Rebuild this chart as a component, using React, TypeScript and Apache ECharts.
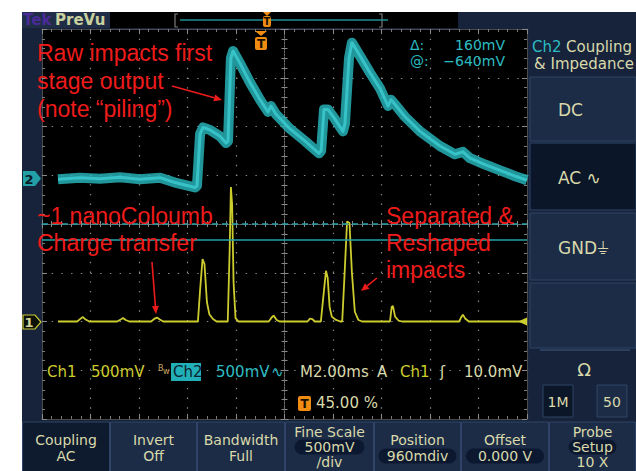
import React, { useEffect, useRef } from "react";
import * as echarts from "echarts";

// Ch2 (cyan, raw first-stage output): time in ms from screen centre, level in divisions
const ch2Time = [-9.34, -8.43, -7.61, -6.78, -5.96, -5.13, -4.52, -3.69, -3.61, -3.48, -3.36, -3.07, -2.66, -2.41, -2.33, -2.21, -2.12, -1.84, -1.42, -1.01, -0.68, -0.56, -0.35, 0.23, 0.85, 1.42, 1.51, 1.63, 1.79, 2.08, 2.41, 2.49, 2.66, 2.78, 3.11, 3.53, 3.94, 4.27, 4.39, 4.56, 4.97, 5.59, 6.41, 7.03, 7.36, 7.65, 8.27, 8.89, 9.51, 10];
const ch2Div = [0.92, 0.95, 0.93, 0.96, 0.92, 0.95, 0.85, 0.75, 0.78, 1.85, 1.98, 1.93, 1.8, 1.66, 1.7, 3.4, 3.55, 3.3, 2.9, 2.55, 2.3, 2.42, 2.25, 1.95, 1.7, 1.45, 1.5, 2.35, 2.35, 2.15, 1.9, 2.05, 3.4, 3.72, 3.45, 3.1, 2.78, 2.42, 2.55, 2.45, 2.2, 1.9, 1.6, 1.43, 1.48, 1.35, 1.22, 1.1, 0.98, 0.9];

// Ch1 (yellow, separated & reshaped impacts)
const ch1Time = [-9.34, -8.55, -8.38, -8.31, -8.2, -8.05, -6.9, -6.72, -6.66, -6.55, -6.4, -5.5, -5.35, -5.26, -5.14, -5.0, -3.57, -3.48, -3.38, -3.3, -3.2, -3.1, -2.95, -2.8, -2.34, -2.26, -2.21, -2.16, -2.1, -2.02, -1.9, -0.65, -0.5, -0.45, -0.32, -0.2, 0.95, 1.05, 1.15, 1.25, 1.5, 1.6, 1.71, 1.78, 1.86, 1.95, 2.1, 2.3, 2.38, 2.48, 2.58, 2.68, 2.78, 2.9, 3.05, 3.2, 4.35, 4.42, 4.47, 4.56, 4.7, 4.85, 7.2, 7.3, 7.36, 7.45, 7.6, 10];
const ch1Div = [-2, -2, -1.93, -1.91, -1.96, -2, -2, -1.95, -1.93, -1.97, -2, -2, -1.94, -1.92, -1.96, -2, -2, -1.35, -0.72, -0.82, -1.6, -1.85, -1.95, -2, -2, -0.5, 0.76, 0.4, -1.2, -1.93, -2, -2, -1.9, -1.88, -1.97, -2, -2, -1.94, -1.95, -2, -2, -1.5, -0.96, -1.1, -1.7, -1.9, -1.96, -2, -2, -1.0, 0.05, 0.02, -1.0, -1.8, -1.97, -2, -2, -1.7, -1.68, -1.9, -1.98, -2, -2, -1.9, -1.86, -1.94, -2, -2];

// cursor levels (divisions)
const cursorLevels = [0, -0.32];

const bottomMenu = [
  ["Coupling", "AC"],
  ["Invert", "Off"],
  ["Bandwidth", "Full"],
  ["Fine Scale", "500mV", "/div"],
  ["Position", "960mdiv"],
  ["Offset", "0.000 V"],
  ["Probe", "Setup", "10 X"],
];
const sideMenu = ["DC", "AC \u223F", "GND\u23DA", ""];

const NAVY = "#16233a";
const BTN = "#1c2c46";
const BTN_DARK = "#0b1628";
const BORDER = "#2f4467";
const BEIGE = "#d9d9ab";
const YEL = "#cccc2e";
const CYAN = "#2cbcc3";
const RED = "#ee1b1b";
const ORANGE = "#f08c12";
const FONT = '"DejaVu Sans"';

function txt(text: string, x: number, y: number, fill: string, size = 15, align = "left", extra: any = {}) {
  return {
    type: "text", x, y, z: 20,
    style: { text, fill, font: `${extra.weight || "normal"} ${size}px ${extra.family || FONT}`, align, verticalAlign: "middle" },
  };
}
function rect(x: number, y: number, w: number, h: number, fill: string, stroke?: string, r = 0, z = -5) {
  return { type: "rect", z, shape: { x, y, width: w, height: h, r }, style: { fill, stroke: stroke || null, lineWidth: 1 } };
}
function arrow(x1: number, y1: number, x2: number, y2: number) {
  const a = Math.atan2(y2 - y1, x2 - x1);
  const L = 8, W = 3.5;
  const bx = x2 - L * Math.cos(a), by = y2 - L * Math.sin(a);
  const px = -Math.sin(a) * W, py = Math.cos(a) * W;
  return [
    { type: "line", z: 30, shape: { x1, y1, x2: bx, y2: by }, style: { stroke: RED, lineWidth: 1.6 } },
    { type: "polygon", z: 30, shape: { points: [[x2, y2], [bx + px, by + py], [bx - px, by - py]] }, style: { fill: RED } },
  ];
}

export default function App() {
  const ref = useRef<HTMLDivElement>(null);
  useEffect(() => {
    const chart = echarts.init(ref.current!, null, { renderer: "svg" });
    const gridLine = { show: true, lineStyle: { color: "#8a8a8a", type: [1.4, 8.3], width: 1.2 } };
    const frameAxis = (pos: string) => ({
      type: "value", position: pos, min: pos === "top" || pos === "bottom" ? -10 : -4, max: pos === "top" || pos === "bottom" ? 10 : 4,
      interval: pos === "top" || pos === "bottom" ? 2 : 1,
      axisLine: { show: true, onZero: false, lineStyle: { color: "#4a4a4a", width: 1 } },
      axisTick: { show: true, inside: true, length: 5, lineStyle: { color: "#8a8a8a" } },
      minorTick: { show: true, splitNumber: 5, length: 3, lineStyle: { color: "#7a7a7a" } },
      axisLabel: { show: false }, splitLine: { show: false },
    });
    const centerX = (inside: boolean, split: boolean) => ({
      type: "value", position: "bottom", min: -10, max: 10, interval: 2,
      axisLine: { show: true, onZero: true, onZeroAxisIndex: 0, lineStyle: { color: "#6a6a6a", type: [1.5, 1.5] } },
      axisTick: { show: true, inside, length: 4, lineStyle: { color: "#8a8a8a" } },
      minorTick: { show: true, splitNumber: 5, length: 3, lineStyle: { color: "#8a8a8a" } },
      axisLabel: { show: false }, splitLine: split ? gridLine : { show: false },
    });
    const centerY = (inside: boolean, split: boolean) => ({
      type: "value", position: "left", min: -4, max: 4, interval: 1,
      axisLine: { show: true, onZero: true, onZeroAxisIndex: 0, lineStyle: { color: "#6a6a6a", type: [1.5, 1.5] } },
      axisTick: { show: true, inside, length: 4, lineStyle: { color: "#8a8a8a" } },
      minorTick: { show: true, splitNumber: 5, length: 3, lineStyle: { color: "#8a8a8a" } },
      axisLabel: { show: false }, splitLine: split ? gridLine : { show: false },
    });

    const g: any[] = [];
    // screen and panels
    g.push(rect(22, 12, 614, 459, NAVY, undefined, 0, -10));
    g.push(rect(22, 12, 88, 16, "#1f2e46", undefined, 0, -8));
    g.push(rect(110, 12, 348, 16, "#000", undefined, 0, -8));
    g.push(rect(42, 29, 485, 390, "#000", undefined, 0, -8));
    g.push(txt("Tek", 23, 20, "#4a2b98", 15, "left", { weight: "bold" }));
    g.push(txt("PreVu", 55, 20, "#c9d19f", 15, "left", { weight: "bold" }));
    // record view
    g.push({ type: "polyline", z: 5, shape: { points: [[178, 14], [175, 14], [175, 27], [178, 27]] }, style: { stroke: "#7a7a7a", lineWidth: 1.2, fill: null } });
    g.push({ type: "polyline", z: 5, shape: { points: [[379, 14], [382, 14], [382, 27], [379, 27]] }, style: { stroke: "#7a7a7a", lineWidth: 1.2, fill: null } });
    g.push({ type: "line", z: 5, shape: { x1: 180, y1: 20, x2: 388, y2: 20 }, style: { stroke: "#1e9096", lineWidth: 1.5 } });
    g.push({ type: "polygon", z: 6, shape: { points: [[263, 12], [271, 12], [267, 16]] }, style: { fill: ORANGE } });
    g.push(rect(263, 16, 8, 11, ORANGE, undefined, 2, 6));
    g.push(txt("T", 267, 21.5, "#1a1000", 10, "center", { weight: "bold" }));
    // trigger position marker on graticule
    g.push({ type: "polygon", z: 6, shape: { points: [[255, 31], [267, 31], [261, 36]] }, style: { fill: ORANGE } });
    g.push(rect(255, 37, 12, 13, ORANGE, undefined, 2, 6));
    g.push(txt("T", 261, 43.5, "#1a1000", 12, "center", { weight: "bold" }));
    // channel markers
    g.push({ type: "polygon", z: 6, shape: { points: [[23, 171], [35, 171], [41, 178.5], [35, 186], [23, 186]] }, style: { fill: "#239fa6" } });
    g.push(txt("2", 29, 179, "#0b1a26", 13, "center", { weight: "bold" }));
    g.push({ type: "polygon", z: 6, shape: { points: [[23, 315], [35, 315], [41, 322], [35, 329], [23, 329]] }, style: { fill: "#0d1208", stroke: "#c8c832", lineWidth: 1.2 } });
    g.push(txt("1", 29, 322, "#d6d69c", 13, "center", { weight: "bold" }));
    // trigger level marker
    g.push({ type: "polygon", z: 6, shape: { points: [[527, 317.5], [518, 321.5], [527, 325.5]] }, style: { fill: YEL } });

    // right side menu
    g.push(txt("Ch2", 532, 47, CYAN, 15));
    g.push(txt("Coupling", 566, 47, BEIGE, 15));
    g.push(txt("& Impedance", 584, 64, BEIGE, 15, "center"));
    const sideY = [[77, 64], [143, 67], [213, 67], [283, 65]];
    sideMenu.forEach((s, i) => {
      const [y, h] = sideY[i];
      g.push(rect(530, y, 106, h, i === 1 ? BTN_DARK : BTN, BORDER, 0, -6));
      if (s) g.push(txt(s, 558, y + h / 2 + 1, BEIGE, 17));
    });
    g.push({ type: "line", z: 5, shape: { x1: 540, y1: 350, x2: 630, y2: 350 }, style: { stroke: "#33486b", lineWidth: 1.5 } });
    g.push(txt("\u03A9", 584, 369, BEIGE, 18, "center"));
    g.push(rect(543, 385, 30, 32, BTN_DARK, BORDER, 0, -6));
    g.push(rect(597, 385, 30, 32, BTN, BORDER, 0, -6));
    g.push(txt("1M", 558, 402, BEIGE, 14, "center"));
    g.push(txt("50", 612, 402, BEIGE, 14, "center"));

    // bottom menu
    const bx = [22, 110, 197, 285, 374, 461, 549, 636];
    bottomMenu.forEach((lines, i) => {
      const x0 = bx[i], x1 = bx[i + 1];
      const cx = (x0 + x1) / 2;
      g.push(rect(x0 + 0.5, 422, x1 - x0 - 1, 52, i === 0 ? "#0e1a2e" : BTN, BORDER, 0, -6));
      const ys = lines.length === 3 ? [432, 447, 462] : [440, 456];
      if (i >= 3) {
        const pw = i === 6 ? 48 : i === 3 ? 70 : 78;
        g.push(rect(cx - pw / 2, ys[1] - 7.5, pw, 15, "#0c1830", undefined, 7.5, -4));
      }
      lines.forEach((l, k) => g.push(txt(l, cx, ys[k], BEIGE, 14, "center")));
    });

    // readouts
    g.push(txt("Ch1", 47, 372, YEL, 15));
    g.push(txt("500mV", 91, 372, YEL, 15));
    g.push(txt("B", 158, 368, "#c8a860", 8));
    g.push(txt("w", 163, 371, "#c8a860", 8));
    g.push(rect(171, 363, 30, 18, "#22b0b8", undefined, 0, 10));
    g.push(txt("Ch2", 173, 372, "#0c2232", 15));
    g.push(txt("500mV", 216, 372, CYAN, 15));
    g.push(txt("\u223F", 271, 372, CYAN, 15));
    g.push(txt("M2.00ms", 300, 372, BEIGE, 15));
    g.push(txt("A", 377, 372, BEIGE, 15));
    g.push(txt("Ch1", 400, 372, YEL, 15));
    g.push(txt("\u0283", 440, 372, BEIGE, 15));
    g.push(txt("10.0mV", 464, 372, BEIGE, 15));
    g.push(rect(298, 396, 13, 15, ORANGE, undefined, 2, 10));
    g.push(txt("T", 304.5, 403.5, "#1a1000", 12, "center", { weight: "bold" }));
    g.push(txt("45.00 %", 316, 403, BEIGE, 15));
    // cursor readout
    g.push(txt("\u0394:", 410, 45, CYAN, 14));
    g.push(txt("160mV", 505, 45, CYAN, 14, "right"));
    g.push(txt("@:", 410, 61, CYAN, 14));
    g.push(txt("\u2212640mV", 505, 61, CYAN, 14, "right"));

    // annotations
    const RF = { family: '"Liberation Sans", Arial, sans-serif' };
    g.push(txt("Raw impacts first", 37, 53, RED, 23, "left", RF));
    g.push(txt("stage output", 37, 81, RED, 23, "left", RF));
    g.push(txt("(note \u201Cpiling\u201D)", 37, 109, RED, 23, "left", RF));
    g.push(txt("~1 nanoColoumb", 37, 216, RED, 23, "left", RF));
    g.push(txt("Charge transfer", 37, 243, RED, 23, "left", RF));
    g.push(txt("Separated &", 386, 216, RED, 23, "left", RF));
    g.push(txt("Reshaped", 386, 243, RED, 23, "left", RF));
    g.push(txt("impacts", 386, 270, RED, 23, "left", RF));
    g.push(...arrow(172, 86, 222, 100));
    g.push(...arrow(152, 262, 156, 314));
    g.push(...arrow(377, 278, 361, 291));

    const ch2Data = ch2Time.map((t, i) => [t, ch2Div[i]]);
    chart.setOption({
      animation: false,
      backgroundColor: "#ffffff",
      grid: { left: 42, top: 29, width: 485, height: 390, show: false },
      xAxis: [centerX(true, true), centerX(false, false), frameAxis("top"), frameAxis("bottom")],
      yAxis: [centerY(true, true), centerY(false, false), frameAxis("left"), frameAxis("right")],
      graphic: { elements: g },
      series: [
        {
          name: "Ch2 band", type: "line", xAxisIndex: 0, yAxisIndex: 0, z: 3,
          data: ch2Data, showSymbol: false, silent: true,
          lineStyle: { color: "#26b0b6", width: 10, opacity: 0.85, join: "round" },
          markLine: {
            silent: true, symbol: "none", label: { show: false },
            data: cursorLevels.map((v, i) => ({ yAxis: v, lineStyle: { color: "#23a3aa", width: 1.5, opacity: 1, type: i === 0 ? [6, 4] : "solid" } })),
          },
        },
        {
          name: "Ch2", type: "line", xAxisIndex: 0, yAxisIndex: 0, z: 3,
          data: ch2Data, showSymbol: false,
          lineStyle: { color: "#3ccdd2", width: 3, opacity: 0.8, join: "round" },
        },
        {
          name: "Ch1", type: "line", xAxisIndex: 0, yAxisIndex: 0, z: 4,
          data: ch1Time.map((t, i) => [t, ch1Div[i]]),
          showSymbol: false, lineStyle: { color: YEL, width: 1.8 },
        },
      ],
    });
    return () => chart.dispose();
  }, []);
  return <div ref={ref} style={{ position: "fixed", left: 0, top: 0, width: 636, height: 471 }} />;
}
